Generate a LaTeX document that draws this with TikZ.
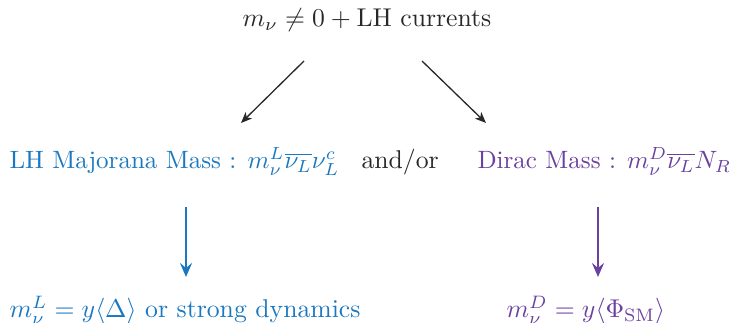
\documentclass[tikz,border=0pt]{standalone}
\usepackage{amsmath}
\usetikzlibrary{arrows.meta}
\definecolor{lhblue}{RGB}{26,120,192}
\definecolor{dirpurple}{RGB}{106,64,160}
\definecolor{txtgray}{RGB}{40,40,40}
\tikzset{
  lbl/.style={inner sep=0pt, font=\normalsize, scale=2.57, transform shape},
  midlbl/.style={lbl, scale=0.975},
  blackarrow/.style={draw=txtgray, line width=1.3pt, -{Stealth[length=11pt,width=9pt,inset=3pt]}},
  colarrow/.style={line width=2.4pt, -{Stealth[length=14pt,width=12pt,inset=5pt]}}
}
\begin{document}
\begin{tikzpicture}[x=1pt,y=1pt]
\useasboundingbox (0,0) rectangle (729,323);
\node[lbl, text=txtgray, anchor=base] (top) at (367,296) {$m_\nu \neq 0 + \text{LH currents}$};
\node[midlbl, text=lhblue, anchor=base west] (maj) at (9,154) {LH Majorana Mass : $m_\nu^L\overline{\nu_L}\nu_L^c$};
\node[lbl, text=txtgray, anchor=base west] (andor) at (361,154) {and/or};
\node[midlbl, text=dirpurple, anchor=base west] (dirac) at (477,154) {Dirac Mass : $m_\nu^D\overline{\nu_L}N_R$};
\node[lbl, text=lhblue, anchor=base west] (mL) at (9,5) {$m_\nu^L = y\langle\Delta\rangle$ or strong dynamics};
\node[lbl, text=dirpurple, anchor=base west] (mD) at (506,5) {$m_\nu^D = y\langle\Phi_{\text{SM}}\rangle$};
\coordinate (a1s) at (304,262);
\coordinate (a1e) at (241,200);
\coordinate (a2s) at (422,262);
\coordinate (a2e) at (486,200);
\coordinate (b1s) at (186,116);
\coordinate (b1e) at (186,46);
\coordinate (b2s) at (598,116);
\coordinate (b2e) at (598,46);
\draw[blackarrow] (a1s) -- (a1e);
\draw[blackarrow] (a2s) -- (a2e);
\draw[colarrow, draw=lhblue, fill=lhblue] (b1s) -- (b1e);
\draw[colarrow, draw=dirpurple, fill=dirpurple] (b2s) -- (b2e);
\end{tikzpicture}
\end{document}
